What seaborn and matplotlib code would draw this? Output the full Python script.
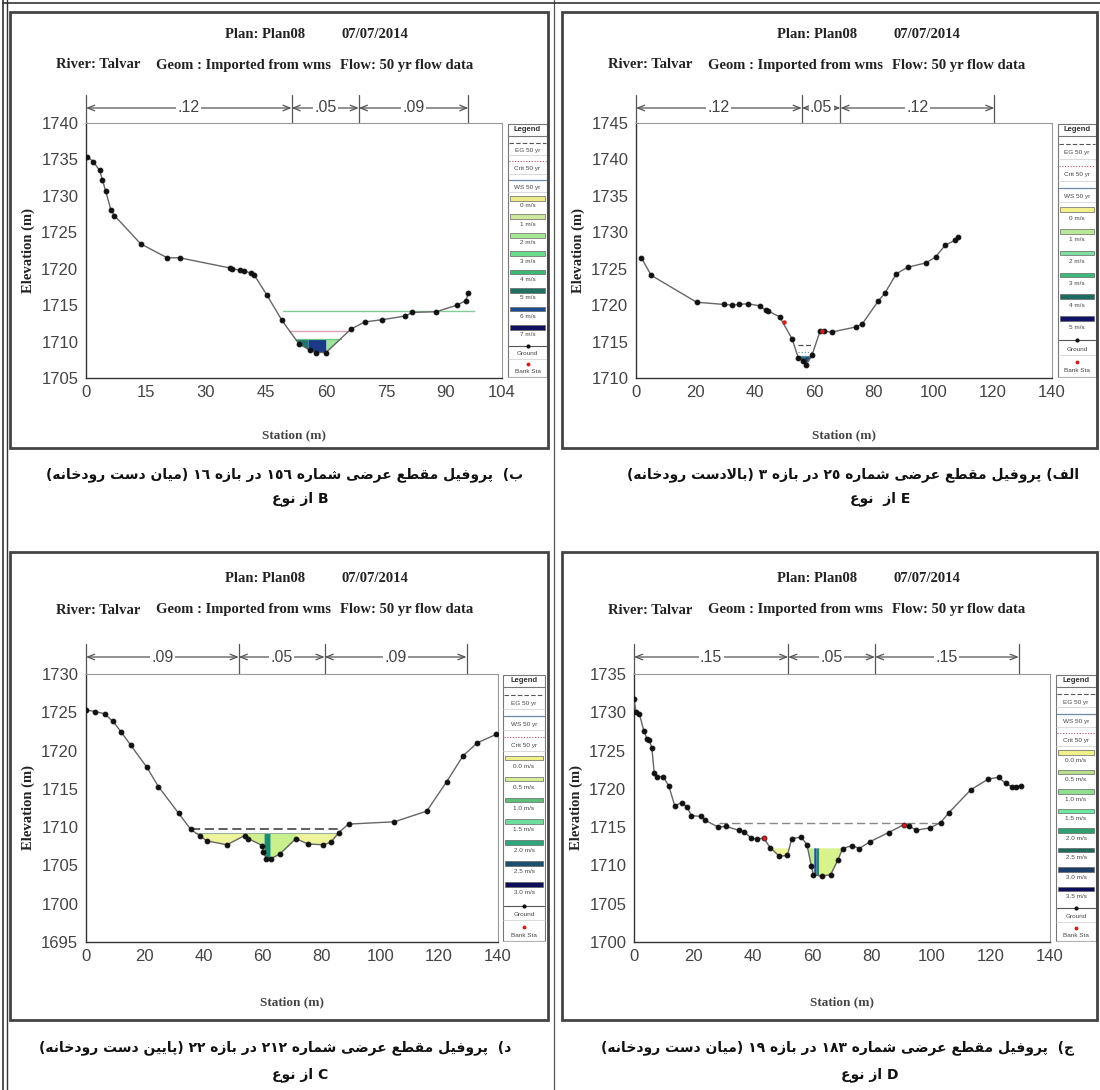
import numpy as np
import matplotlib
matplotlib.use('Agg')
import matplotlib.pyplot as plt
from matplotlib.patches import Rectangle
from matplotlib.ticker import MultipleLocator
import seaborn as sns

# ---------------------------------------------------------------
# Dados lidos das quatro seções transversais (HEC-RAS)
# ---------------------------------------------------------------
# painel ب (superior esquerdo)
tl_station = [0.3, 1.8, 3.4, 4.1, 4.9, 6.2, 7.1, 13.7, 20.3, 23.4,
              36.0, 36.6, 38.4, 39.5, 41.2, 42.1, 45.2, 49.0, 53.2, 56.0,
              57.4, 60.0, 66.2, 69.7, 74.1, 79.7, 81.6, 87.6, 92.7, 94.9, 95.6]
tl_elev = [1735.4, 1734.7, 1733.5, 1732.2, 1730.7, 1728.1, 1727.3, 1723.4, 1721.5, 1721.5,
           1720.1, 1720.0, 1719.8, 1719.7, 1719.4, 1719.1, 1716.4, 1712.9, 1709.7, 1708.8,
           1708.5, 1708.5, 1711.7, 1712.7, 1713.0, 1713.5, 1714.0, 1714.1, 1715.0, 1715.6, 1716.6]
tl_ws, tl_crit, tl_eg = 1710.4, 1711.5, 1714.2
tl_zone_lo = [52.3, 55.5, 60.0]
tl_zone_hi = [55.5, 60.0, 63.7]
tl_zone_colors = ['#1f7470', '#1b3a86', '#9fe49c']
tl_manning = [0, 51.4, 68.2, 95.6]
tl_n_labels = ['.12', '.05', '.09']
tl_xticks = [0, 15, 30, 45, 60, 75, 90, 104]
tl_vel_labels = ['0 m/s', '1 m/s', '2 m/s', '3 m/s', '4 m/s', '5 m/s', '6 m/s', '7 m/s']
tl_vel_colors = ['#eeea8c', '#cde79c', '#a8e694', '#6cdc8c', '#3cb874', '#1f7262', '#1c4a90', '#0f1060']
tl_lines = ['EG 50 yr', 'Crit 50 yr', 'WS 50 yr']

# painel الف (superior direito)
tr_station = [1.8, 5.1, 20.4, 29.5, 32.4, 34.8, 37.7, 41.6, 43.6, 44.5,
              48.3, 52.5, 54.6, 56.3, 57.2, 59.3, 61.9, 63.4, 65.8, 73.9,
              76.1, 81.6, 83.7, 87.6, 91.4, 97.6, 100.8, 104.0, 107.3, 108.5]
tr_elev = [1726.5, 1724.1, 1720.4, 1720.1, 1720.0, 1720.1, 1720.2, 1719.9, 1719.3, 1719.2,
           1718.4, 1715.4, 1712.8, 1712.3, 1711.8, 1713.2, 1716.4, 1716.4, 1716.3, 1717.0,
           1717.4, 1720.6, 1721.6, 1724.3, 1725.2, 1725.8, 1726.6, 1728.2, 1728.9, 1729.4]
tr_bank_x = [49.9, 62.6]
tr_bank_y = [1717.7, 1716.4]
tr_ws, tr_crit, tr_eg = 1713.0, 1713.6, 1714.5
tr_zone_lo = [54.3, 56.5]
tr_zone_hi = [56.5, 58.9]
tr_zone_colors = ['#1f6f6a', '#1d4a78']
tr_manning = [0, 55.8, 68.8, 120.6]
tr_n_labels = ['.12', '.05', '.12']
tr_vel_labels = ['0 m/s', '1 m/s', '2 m/s', '3 m/s', '4 m/s', '5 m/s']
tr_vel_colors = ['#f2f08a', '#b8e896', '#7ee0a0', '#3cb87a', '#1f6a62', '#101468']
tr_lines = ['EG 50 yr', 'Crit 50 yr', 'WS 50 yr']

# painel د (inferior esquerdo)
bl_station = [0.0, 3.2, 6.3, 9.2, 12.0, 15.2, 20.7, 24.6, 31.5, 35.6,
              38.6, 41.1, 47.9, 53.9, 55.1, 59.9, 60.2, 61.3, 62.9, 65.9,
              71.3, 75.4, 80.6, 83.2, 85.9, 89.2, 104.8, 115.8, 122.5, 128.1,
              132.9, 139.3]
bl_elev = [1725.3, 1725.1, 1724.8, 1723.8, 1722.4, 1720.7, 1717.8, 1715.3, 1711.8, 1709.7,
           1708.9, 1708.2, 1707.7, 1708.9, 1708.5, 1707.6, 1706.7, 1705.9, 1705.9, 1706.5,
           1708.5, 1707.8, 1707.7, 1708.0, 1709.3, 1710.4, 1710.7, 1712.1, 1715.9, 1719.3,
           1721.0, 1722.1]
bl_ws, bl_crit, bl_eg = 1709.2, 1709.2, 1709.8
bl_zone_lo = [37.0, 53.5, 60.5, 62.6, 71.3]
bl_zone_hi = [53.5, 60.5, 62.6, 71.3, 86.0]
bl_zone_colors = ['#eef49c', '#d0f08e', '#1e8a6e', '#c8f08c', '#eef49c']
bl_manning = [0, 51.9, 81.1, 129.3]
bl_n_labels = ['.09', '.05', '.09']
bl_vel_labels = ['0.0 m/s', '0.5 m/s', '1.0 m/s', '1.5 m/s', '2.0 m/s', '2.5 m/s', '3.0 m/s']
bl_vel_colors = ['#f2f08a', '#d6ee94', '#5cc07a', '#6edc9c', '#2ea67c', '#1d4f6e', '#0d0f5a']
bl_lines = ['EG 50 yr', 'WS 50 yr', 'Crit 50 yr']

# painel ج (inferior direito)
br_station = [0.0, 0.6, 1.8, 3.3, 4.4, 5.1, 6.0, 6.8, 7.8, 9.8,
              11.7, 13.7, 16.1, 17.9, 19.3, 22.7, 23.9, 28.4, 31.0, 35.2,
              37.0, 39.4, 41.5, 43.6, 45.9, 48.9, 51.6, 53.1, 56.3, 58.2,
              59.7, 60.3, 63.2, 66.2, 68.6, 70.2, 73.4, 75.8, 79.4, 85.7,
              90.7, 92.5, 94.9, 99.6, 103.2, 106.0, 113.4, 119.3, 122.7, 125.1,
              127.1, 128.6, 130.1]
br_elev = [1731.8, 1730.1, 1729.8, 1727.6, 1726.5, 1726.4, 1725.4, 1722.1, 1721.6, 1721.6,
           1720.4, 1717.8, 1718.2, 1717.6, 1716.5, 1716.4, 1715.9, 1715.0, 1715.1, 1714.6,
           1714.4, 1713.6, 1713.4, 1713.6, 1712.3, 1711.2, 1711.3, 1713.5, 1713.7, 1712.7,
           1709.9, 1708.8, 1708.6, 1708.8, 1710.7, 1712.2, 1712.6, 1712.2, 1713.1, 1714.3,
           1715.3, 1715.2, 1714.6, 1714.9, 1715.6, 1716.9, 1719.9, 1721.3, 1721.5, 1720.7,
           1720.3, 1720.3, 1720.4]
br_bank_x = [43.6, 90.7]
br_bank_y = [1713.6, 1715.3]
br_ws, br_crit, br_eg = 1712.3, 1712.3, 1715.6
br_zone_lo = [45.8, 58.4, 60.5, 61.3, 62.2]
br_zone_hi = [52.3, 60.5, 61.3, 62.2, 71.0]
br_zone_colors = ['#eef49c', '#bfee8a', '#1d4f98', '#238a6e', '#d8f28e']
br_manning = [0, 51.9, 81.1, 129.5]
br_n_labels = ['.15', '.05', '.15']
br_vel_labels = ['0.0 m/s', '0.5 m/s', '1.0 m/s', '1.5 m/s', '2.0 m/s', '2.5 m/s', '3.0 m/s', '3.5 m/s']
br_vel_colors = ['#f2f08a', '#b8e08c', '#8ee090', '#6ee8a0', '#2ea070', '#1f6a5a', '#1c3f6a', '#0d0f5a']
br_lines = ['EG 50 yr', 'WS 50 yr', 'Crit 50 yr']

xticks_140 = [0, 20, 40, 60, 80, 100, 120, 140]

title_plan = 'Plan: Plan08'
title_date = '07/07/2014'
title_river = 'River: Talvar'
title_geom = 'Geom : Imported from wms'
title_flow = 'Flow: 50 yr flow data'

cap_tl = ['ب)  پروفیل مقطع عرضی شماره ١٥٦ در بازه ١٦ (میان دست رودخانه)', 'از نوع', 'B']
cap_tr = ['الف) پروفیل مقطع عرضی شماره ٢٥ در بازه ٣ (بالادست رودخانه)', 'از  نوع', 'E']
cap_bl = ['د)  پروفیل مقطع عرضی شماره ٢١٢ در بازه ٢٢ (پایین دست رودخانه)', 'از نوع', 'C']
cap_br = ['ج)  پروفیل مقطع عرضی شماره ١٨٣ در بازه ١٩ (میان دست رودخانه)', 'از نوع', 'D']


# ---------------------------------------------------------------
# Forma contextual do árabe/persa (matplotlib não faz shaping)
# ---------------------------------------------------------------
FORMS = {
    'ا': ('\uFE8D', '\uFE8E', None, None),
    'ب': ('\uFE8F', '\uFE90', '\uFE91', '\uFE92'),
    'پ': ('\uFB56', '\uFB57', '\uFB58', '\uFB59'),
    'ت': ('\uFE95', '\uFE96', '\uFE97', '\uFE98'),
    'ج': ('\uFE9D', '\uFE9E', '\uFE9F', '\uFEA0'),
    'خ': ('\uFEA5', '\uFEA6', '\uFEA7', '\uFEA8'),
    'د': ('\uFEA9', '\uFEAA', None, None),
    'ر': ('\uFEAD', '\uFEAE', None, None),
    'ز': ('\uFEAF', '\uFEB0', None, None),
    'س': ('\uFEB1', '\uFEB2', '\uFEB3', '\uFEB4'),
    'ش': ('\uFEB5', '\uFEB6', '\uFEB7', '\uFEB8'),
    'ض': ('\uFEBD', '\uFEBE', '\uFEBF', '\uFEC0'),
    'ط': ('\uFEC1', '\uFEC2', '\uFEC3', '\uFEC4'),
    'ع': ('\uFEC9', '\uFECA', '\uFECB', '\uFECC'),
    'ف': ('\uFED1', '\uFED2', '\uFED3', '\uFED4'),
    'ق': ('\uFED5', '\uFED6', '\uFED7', '\uFED8'),
    'ل': ('\uFEDD', '\uFEDE', '\uFEDF', '\uFEE0'),
    'م': ('\uFEE1', '\uFEE2', '\uFEE3', '\uFEE4'),
    'ن': ('\uFEE5', '\uFEE6', '\uFEE7', '\uFEE8'),
    'ه': ('\uFEE9', '\uFEEA', '\uFEEB', '\uFEEC'),
    'و': ('\uFEED', '\uFEEE', None, None),
    'ی': ('\uFBFC', '\uFBFD', '\uFBFE', '\uFBFF'),
}
MIRROR = {'(': ')', ')': '('}


def dual(c):
    return c in FORMS and FORMS[c][2] is not None


def shape(text):
    out, i = [], 0
    while i < len(text):
        c = text[i]
        if c not in FORMS:
            out.append(c)
            i += 1
            continue
        link_prev = i > 0 and dual(text[i - 1])
        if c == 'ل' and i + 1 < len(text) and text[i + 1] == 'ا':
            out.append('\uFEFC' if link_prev else '\uFEFB')
            i += 2
            continue
        link_next = dual(c) and i + 1 < len(text) and text[i + 1] in FORMS
        iso, fin, ini, med = FORMS[c]
        if link_prev and link_next:
            out.append(med)
        elif link_prev:
            out.append(fin)
        elif link_next:
            out.append(ini)
        else:
            out.append(iso)
        i += 1
    return ''.join(out)


def rtl(text):
    runs = []
    for ch in shape(text):
        ltr = ch.isdigit() or (ch.isascii() and ch.isalpha())
        if runs and runs[-1][0] == ltr:
            runs[-1][1].append(ch)
        else:
            runs.append([ltr, [ch]])
    out = []
    for ltr, chars in reversed(runs):
        if ltr:
            out.append(''.join(chars))
        else:
            out.append(''.join(MIRROR.get(c, c) for c in reversed(chars)))
    return ''.join(out)


# ---------------------------------------------------------------
# Figura em pixels
# ---------------------------------------------------------------
W, H = 1100, 1090
sns.set_style('white')
plt.rcParams['font.family'] = ['Liberation Sans', 'DejaVu Sans']
fig = plt.figure(figsize=(W / 100, H / 100), dpi=100, facecolor='white')


def add_ax(box):
    l, t, r, b = box
    return fig.add_axes([l / W, 1 - b / H, (r - l) / W, (b - t) / H])


def frame(box, lw=2.0, color='#444'):
    l, t, r, b = box
    fig.add_artist(Rectangle((l / W, 1 - b / H), (r - l) / W, (b - t) / H,
                             transform=fig.transFigure, fill=False, lw=lw, ec=color))


def ftext(x, y, s, **kw):
    fig.text(x / W, 1 - y / H, s, **kw)


def legend_box(box, entries):
    l, t, r, b = box
    h = b - t
    lax = add_ax(box)
    lax.set_xlim(0, 1)
    lax.set_ylim(h, 0)
    lax.axis('off')
    lax.add_patch(Rectangle((0.03, 1), 0.94, h - 2, fill=False, ec='#777', lw=0.8))
    lax.text(0.5, 6.5, 'Legend', ha='center', va='center', fontsize=5.5,
             fontweight='bold', color='#333')
    lax.plot([0.03, 0.97], [13, 13], color='#777', lw=0.8)
    step = (h - 15) / len(entries)
    for k, (kind, color, label) in enumerate(entries):
        y0 = 14 + k * step
        ys, yt = y0 + step * 0.32, y0 + step * 0.72
        if kind == 'bar':
            lax.add_patch(Rectangle((0.07, ys - 2.3), 0.86, 4.6, fc=color, ec='#666', lw=0.5))
        elif kind == 'dash':
            lax.plot([0.05, 0.95], [ys, ys], color=color, lw=0.8, ls=(0, (4, 2)))
        elif kind == 'dot':
            lax.plot([0.05, 0.95], [ys, ys], color=color, lw=0.8, ls=(0, (1, 1.5)))
        elif kind == 'line':
            lax.plot([0.05, 0.95], [ys, ys], color=color, lw=0.9)
        elif kind == 'ground':
            lax.plot([0.05, 0.95], [ys, ys], color='#555', lw=0.8)
            lax.plot([0.5], [ys], 'o', color='#111', ms=2)
        elif kind == 'bank':
            lax.plot([0.5], [ys], 'o', color='#d02020', ms=1.8)
        if kind != 'bar':
            lax.plot([0.03, 0.97], [y0 + step, y0 + step], color='#ccc', lw=0.5)
        lax.text(0.5, yt, label, ha='center', va='center', fontsize=4.6, color='#444')


def water(ax, st, el, ws, lo, hi, colors):
    st, el = np.asarray(st), np.asarray(el)
    for a, b, c in zip(lo, hi, colors):
        xs = np.concatenate([[a], st[(st > a) & (st < b)], [b]])
        ys = np.interp(xs, st, el)
        ax.fill_between(xs, ys, ws, where=ys <= ws + 0.05, interpolate=True,
                        color=c, lw=0, zorder=1)


def draw_panel(p):
    fl, ft, fr, fb = p['frame']
    frame(p['frame'])
    ty1, ty2 = p['title_y']
    tkw = dict(family='Liberation Serif', fontweight='bold', fontsize=10.5,
               color='#222', va='center', ha='left')
    ftext(fl + 215, ty1, title_plan, **tkw)
    ftext(fl + 332, ty1, title_date, **tkw)
    ftext(fl + 46, ty2, title_river, **tkw)
    ftext(fl + 146, ty2, title_geom, **tkw)
    ftext(fl + 330, ty2, title_flow, **tkw)

    ax = add_ax(p['ax'])
    al, at, ar, ab = p['ax']
    st, el = p['station'], p['elev']

    water(ax, st, el, p['ws'], p['zone_lo'], p['zone_hi'], p['zone_colors'])
    for (y, x0, x1, color, ls, lw) in p['wlines']:
        ax.plot([x0, x1], [y, y], color=color, ls=ls, lw=lw, zorder=2)

    sns.lineplot(x=st, y=el, ax=ax, color='#666', linewidth=1.0, marker='o',
                 markersize=3.4, markerfacecolor='#111', markeredgecolor='#111',
                 sort=False, estimator=None, legend=False, zorder=3)
    if p.get('bank_x'):
        ax.plot(p['bank_x'], p['bank_y'], 'o', color='#d02020', ms=2.2, zorder=4)

    ax.set_xlim(*p['xlim'])
    ax.set_ylim(*p['ylim'])
    ax.set_xticks(p['xticks'])
    ax.set_yticks(np.arange(p['ylim'][0], p['ylim'][1] + 1, 5))
    ax.xaxis.set_minor_locator(MultipleLocator(p['xminor']))
    ax.yaxis.set_minor_locator(MultipleLocator(1))
    ax.set_xlabel('')
    ax.set_ylabel('')
    ax.tick_params(which='major', direction='out', length=4, width=0.8,
                   colors='#444', labelsize=12)
    ax.tick_params(which='minor', direction='out', length=2.2, width=0.6, colors='#666')
    ax.tick_params(axis='x', which='both', direction='in')
    ax.tick_params(axis='x', which='major', pad=5)
    ax.tick_params(axis='y', which='major', pad=1.5)
    for side in ['left', 'bottom']:
        ax.spines[side].set_color('#333')
        ax.spines[side].set_linewidth(1.0)
    for side in ['top', 'right']:
        ax.spines[side].set_color('#999')
        ax.spines[side].set_linewidth(0.8)

    # faixas de Manning acima do gráfico
    h = ab - at
    trans = ax.get_xaxis_transform()
    yb = 1 + (at - p['bracket_y']) / h
    ytop = 1 + (at - p['bracket_y'] + 13) / h
    for x in p['manning']:
        ax.plot([x, x], [1.0, ytop], transform=trans, color='#555', lw=0.9, clip_on=False)
    m = p['manning']
    for k, lab in enumerate(p['n_labels']):
        ax.annotate('', xy=(m[k + 1], yb), xytext=(m[k], yb), xycoords=trans, textcoords=trans,
                    arrowprops=dict(arrowstyle='<->,head_length=0.5,head_width=0.2',
                                    color='#555', lw=0.9, shrinkA=0, shrinkB=0),
                    annotation_clip=False)
        ax.text((m[k] + m[k + 1]) / 2, yb, lab, transform=trans, ha='center', va='center',
                fontsize=11.5, color='#444', clip_on=False,
                bbox=dict(fc='white', ec='none', pad=1.0))

    ftext(al - 58, (at + ab) / 2, 'Elevation (m)', family='Liberation Serif',
          fontweight='bold', fontsize=10.5, rotation=90, ha='center', va='center', color='#222')
    ftext((al + ar) / 2, p['station_y'], 'Station (m)', family='Liberation Serif',
          fontweight='bold', fontsize=9.5, ha='center', va='center', color='#444')

    entries = [(k, c, lab) for lab, k, c in zip(
        p['lines'],
        [{'EG 50 yr': 'dash', 'Crit 50 yr': 'dot', 'WS 50 yr': 'line'}[n] for n in p['lines']],
        [{'EG 50 yr': '#555', 'Crit 50 yr': '#c05060', 'WS 50 yr': '#6a8aa8'}[n] for n in p['lines']])]
    entries += [('bar', c, lab) for lab, c in zip(p['vel_labels'], p['vel_colors'])]
    entries += [('ground', '#111', 'Ground'), ('bank', '#d02020', 'Bank Sta')]
    legend_box(p['leg'], entries)

    # legenda persa
    cx1, cx2 = p['cap_x']
    cy1, cy2 = p['cap_y']
    line1, words, letter = p['caption']
    ckw = dict(family='DejaVu Sans', fontweight='bold', fontsize=10,
               color='#111', ha='center', va='center')
    ftext(cx1, cy1, rtl(line1), **ckw)
    ftext(cx2, cy2, rtl(words) + ' ' + letter, **ckw)


panels = [
    dict(frame=(10, 12, 548, 448), ax=(86, 123, 502, 378), leg=(507, 123, 548, 378),
         title_y=(35, 65), bracket_y=108, station_y=435, cap_y=(475, 499), cap_x=(285, 300),
         station=tl_station, elev=tl_elev, ws=tl_ws,
         zone_lo=tl_zone_lo, zone_hi=tl_zone_hi, zone_colors=tl_zone_colors,
         wlines=[(tl_eg, 49.3, 97.0, '#86c896', '-', 1.0),
                 (tl_crit, 50.8, 65.6, '#e0a0b4', '-', 1.0),
                 (tl_ws, 52.3, 63.7, '#6cc884', '-', 0.9)],
         xlim=(0, 104), ylim=(1705, 1740), xticks=tl_xticks, xminor=3,
         manning=tl_manning, n_labels=tl_n_labels,
         lines=tl_lines, vel_labels=tl_vel_labels, vel_colors=tl_vel_colors, caption=cap_tl),
    dict(frame=(562, 12, 1097, 448), ax=(636, 123, 1052, 378), leg=(1057, 123, 1097, 378),
         title_y=(35, 65), bracket_y=108, station_y=435, cap_y=(475, 499), cap_x=(853, 880),
         station=tr_station, elev=tr_elev, ws=tr_ws, bank_x=tr_bank_x, bank_y=tr_bank_y,
         zone_lo=tr_zone_lo, zone_hi=tr_zone_hi, zone_colors=tr_zone_colors,
         wlines=[(tr_eg, 54.4, 59.6, '#555', (0, (4, 2)), 0.9),
                 (tr_crit, 54.5, 59.3, '#8090b0', (0, (1, 1.5)), 0.9),
                 (tr_ws, 54.3, 58.9, '#5a8aa8', '-', 0.9)],
         xlim=(0, 140), ylim=(1710, 1745), xticks=xticks_140, xminor=4,
         manning=tr_manning, n_labels=tr_n_labels,
         lines=tr_lines, vel_labels=tr_vel_labels, vel_colors=tr_vel_colors, caption=cap_tr),
    dict(frame=(10, 552, 548, 1020), ax=(86, 674, 498, 942), leg=(502, 674, 546, 942),
         title_y=(579, 610), bracket_y=657, station_y=1002, cap_y=(1048, 1075), cap_x=(275, 300),
         station=bl_station, elev=bl_elev, ws=bl_ws,
         zone_lo=bl_zone_lo, zone_hi=bl_zone_hi, zone_colors=bl_zone_colors,
         wlines=[(bl_eg, 35.6, 86.4, '#333', (0, (6, 3)), 1.1),
                 (bl_ws, 37.0, 86.0, '#9ab0a0', '-', 0.8)],
         xlim=(0, 140), ylim=(1695, 1730), xticks=xticks_140, xminor=4,
         manning=bl_manning, n_labels=bl_n_labels,
         lines=bl_lines, vel_labels=bl_vel_labels, vel_colors=bl_vel_colors, caption=cap_bl),
    dict(frame=(562, 552, 1097, 1020), ax=(634, 674, 1050, 942), leg=(1055, 674, 1097, 942),
         title_y=(579, 610), bracket_y=657, station_y=1002, cap_y=(1048, 1075), cap_x=(838, 870),
         station=br_station, elev=br_elev, ws=br_ws, bank_x=br_bank_x, bank_y=br_bank_y,
         zone_lo=br_zone_lo, zone_hi=br_zone_hi, zone_colors=br_zone_colors,
         wlines=[(br_eg, 28.6, 102.5, '#888', (0, (6, 3)), 1.0)],
         xlim=(0, 140), ylim=(1700, 1735), xticks=xticks_140, xminor=4,
         manning=br_manning, n_labels=br_n_labels,
         lines=br_lines, vel_labels=br_vel_labels, vel_colors=br_vel_colors, caption=cap_br),
]

for p in panels:
    draw_panel(p)

# bordas da tabela
fig.add_artist(plt.Line2D([3 / W, 3 / W], [0, 1], transform=fig.transFigure, color='#333', lw=1.2))
fig.add_artist(plt.Line2D([7 / W, 7 / W], [0, 1], transform=fig.transFigure, color='#333', lw=1.0))
fig.add_artist(plt.Line2D([554 / W, 554 / W], [0, 1], transform=fig.transFigure, color='#555', lw=0.9))
fig.add_artist(plt.Line2D([3 / W, 1], [1 - 3 / H, 1 - 3 / H], transform=fig.transFigure, color='#333', lw=1.2))

fig.savefig('out.png', dpi=100, facecolor='white')
